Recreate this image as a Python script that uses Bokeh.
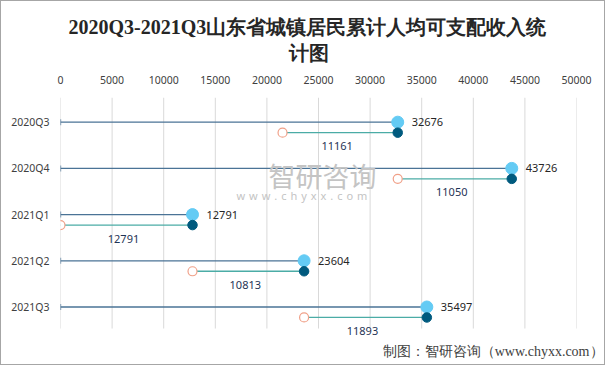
from bokeh.plotting import figure
from bokeh.models import Range1d, Label, LabelSet, Title, FixedTicker, ColumnDataSource
from bokeh.embed import file_html
from bokeh.resources import INLINE
from bokeh.core.properties import value

# ---- data ----
quarters = ["2020Q3", "2020Q4", "2021Q1", "2021Q2", "2021Q3"]
cumulative = [32676, 43726, 12791, 23604, 35497]
increment = [11161, 11050, 12791, 10813, 11893]
x_ticks = [0, 5000, 10000, 15000, 20000, 25000, 30000, 35000, 40000, 45000, 50000]
title_text = "2020Q3-2021Q3山东省城镇居民累计人均可支配收入统\n" + "\u3000" * 11 + "计图"

W, H = 605, 365
Y_TOP = -0.534
Y_GRID_BOTTOM = 4.466
Y_FRAME_BOTTOM = 4.747

p = figure(width=W, height=H, output_backend="svg", toolbar_location=None,
           x_range=Range1d(0, 50000), y_range=Range1d(Y_FRAME_BOTTOM, Y_TOP),
           x_axis_location="above",
           min_border_left=59, min_border_right=30, min_border_top=96, min_border_bottom=25)
p.background_fill_color = "white"
p.border_fill_color = "white"
p.outline_line_color = None
p.styles = {"border": "1px solid #A6A6A6"}

ys = list(range(len(quarters)))
sub_off = 0.227
lab_off = 0.52
start = [c - d for c, d in zip(cumulative, increment)]
src = ColumnDataSource(dict(
    y=ys, y2=[y + sub_off for y in ys], y3=[y + lab_off for y in ys],
    zero=[0] * len(ys), cum=cumulative, inc=increment, start=start,
    mid=[(s + c) / 2 for s, c in zip(start, cumulative)],
    cum_txt=[str(v) for v in cumulative], inc_txt=[str(v) for v in increment]))

# vertical grid lines at the axis ticks
gsrc = ColumnDataSource(dict(x=x_ticks, y0=[Y_TOP] * len(x_ticks), y1=[Y_GRID_BOTTOM] * len(x_ticks)))
p.segment(x0="x", y0="y0", x1="x", y1="y1", source=gsrc, line_color="#D9D9D9", line_width=1)

# top row
p.segment(x0="zero", y0="y", x1="cum", y1="y", source=src, line_color="#4A7396", line_width=1.3)
p.scatter(x="zero", y="y", source=src, marker="dash", angle=1.5708, size=6,
          line_color="#4A7396", line_width=1.3)
p.scatter(x="cum", y="y", source=src, size=12, fill_color="#64CBF4", line_color="#64CBF4")
# bottom row
p.segment(x0="start", y0="y2", x1="cum", y1="y2", source=src, line_color="#4BACA6", line_width=1.3)
p.scatter(x="start", y="y2", source=src, size=9, fill_color="white", line_color="#F0A088", line_width=1.2)
p.scatter(x="cum", y="y2", source=src, size=9.5, fill_color="#005A7E", line_color="#005A7E")

p.add_layout(LabelSet(x="cum", y="y", text="cum_txt", source=src, x_offset=14,
                      text_baseline="middle", text_font=value("Noto Sans"),
                      text_font_size="11px", text_color="#262626"))
p.add_layout(LabelSet(x="mid", y="y3", text="inc_txt", source=src, x_offset=-3,
                      text_align="center", text_baseline="middle", text_font=value("Noto Sans"),
                      text_font_size="11px", text_color="#1F3456"))

# axes
xa = p.xaxis[0]
xa.ticker = FixedTicker(ticks=x_ticks)
xa.axis_line_color = None
xa.major_tick_line_color = None
xa.minor_tick_line_color = None
xa.major_tick_out = 0
xa.major_tick_in = 0
xa.minor_tick_out = 0
xa.major_label_text_font = "Noto Sans"
xa.major_label_text_font_size = "10.5px"
xa.major_label_text_color = "#404040"
xa.major_label_standoff = 14

ya = p.yaxis[0]
ya.ticker = FixedTicker(ticks=ys)
ya.major_label_overrides = {y: q for y, q in zip(ys, quarters)}
ya.axis_line_color = None
ya.major_tick_line_color = None
ya.minor_tick_line_color = None
ya.major_tick_out = 0
ya.major_tick_in = 0
ya.minor_tick_out = 0
ya.major_label_text_font = "Noto Sans"
ya.major_label_text_font_size = "10.5px"
ya.major_label_text_color = "#404040"
ya.major_label_standoff = 11

p.xgrid.grid_line_color = None
p.ygrid.grid_line_color = None

# watermark
p.add_layout(Label(x=20155, y=1.15, text="智研咨询", text_font="Noto Sans CJK SC",
                   text_font_size="27px", text_color="#C4C4C4", text_baseline="middle"))
p.add_layout(Label(x=17054, y=1.587, text=" \u200a".join("www.chyxx.com"),
                   text_font="Noto Sans", text_font_size="11px", text_color="#C4C4C4",
                   text_baseline="middle"))

# title (two lines)
p.add_layout(Title(text=title_text, align="left", offset=8, standoff=17,
                   text_font="Liberation Serif", text_font_size="20px", text_font_style="bold",
                   text_line_height=1.19, text_color="#262626"), "above")
# footer
p.add_layout(Title(text="制图：智研咨询（www.chyxx.com）", align="right", offset=-27, standoff=0,
                   text_font="Liberation Serif", text_font_size="14px", text_font_style="normal",
                   text_color="#404040"), "below")

open("out.html", "w").write(file_html(p, INLINE))
